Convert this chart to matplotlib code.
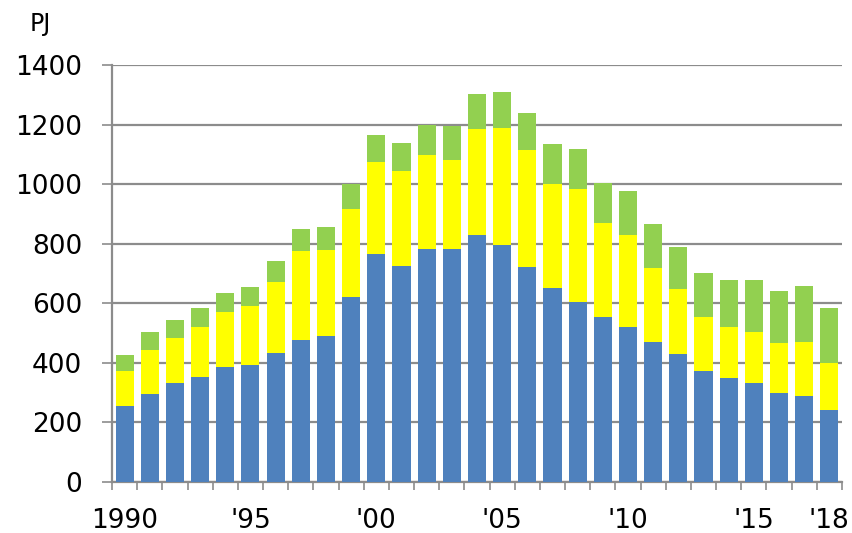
import numpy as np
import matplotlib.pyplot as plt

# ==========================================
# Data (PJ)
# ==========================================
years = list(range(1990, 2019))
blue_vals = [256, 297, 331, 351, 387, 392, 432, 478, 491, 621,
             765, 725, 781, 781, 828, 796, 723, 652, 603, 553,
             521, 469, 430, 372, 350, 331, 298, 289, 242]
yellow_tops = [373, 444, 484, 521, 572, 590, 673, 776, 779, 915,
               1075, 1044, 1098, 1081, 1185, 1189, 1116, 999, 983, 868,
               829, 717, 647, 553, 521, 505, 468, 471, 398]
green_tops = [426, 502, 543, 583, 634, 656, 743, 849, 856, 999,
              1164, 1139, 1198, 1195, 1304, 1311, 1238, 1134, 1117, 1003,
              978, 865, 790, 703, 678, 678, 641, 659, 585]
tick_years = [1990, 1995, 2000, 2005, 2010, 2015, 2018]
tick_labels = ['1990', "'95", "'00", "'05", "'10", "'15", "'18"]

blue = np.array(blue_vals)
yellow = np.array(yellow_tops) - blue
green = np.array(green_tops) - np.array(yellow_tops)

# ==========================================
# Plot
# ==========================================
fig = plt.figure(figsize=(8.53, 5.33), dpi=100)
ax = fig.add_axes([0.1313, 0.0957, 0.8557, 0.7823])

x = np.arange(len(years))
w = 0.72
ax.bar(x, blue, w, color='#4F81BD', zorder=3)
ax.bar(x, yellow, w, bottom=blue, color='#FFFF00', zorder=3)
ax.bar(x, green, w, bottom=blue + yellow, color='#92D050', zorder=3)

ax.set_xlim(-0.5, len(years) - 0.5)
ax.set_ylim(0, 1400)
ax.set_yticks(range(0, 1401, 200))
ax.yaxis.grid(True, color='#8c8c8c', linewidth=1.6, zorder=0)

# category ticks between bars, labels centred on selected years
ax.set_xticks(np.arange(-0.5, len(years), 1.0))
ax.set_xticklabels([])
ax.set_xticks([years.index(y) for y in tick_years], minor=True)
ax.set_xticklabels(tick_labels, minor=True)
ax.tick_params(axis='x', which='major', direction='out', length=6, width=1.2, color='#8c8c8c')
ax.tick_params(axis='x', which='minor', length=0, pad=19, labelsize=19)
ax.tick_params(axis='y', direction='out', length=7.5, width=1.2, color='#8c8c8c', labelsize=19, pad=14)

for s in ['top', 'right']:
    ax.spines[s].set_visible(False)
for s in ['left', 'bottom']:
    ax.spines[s].set_color('#8c8c8c')
    ax.spines[s].set_linewidth(1.6)

fig.text(0.035, 0.955, 'PJ', fontsize=17, va='center')

fig.savefig('out.png', dpi=100)
